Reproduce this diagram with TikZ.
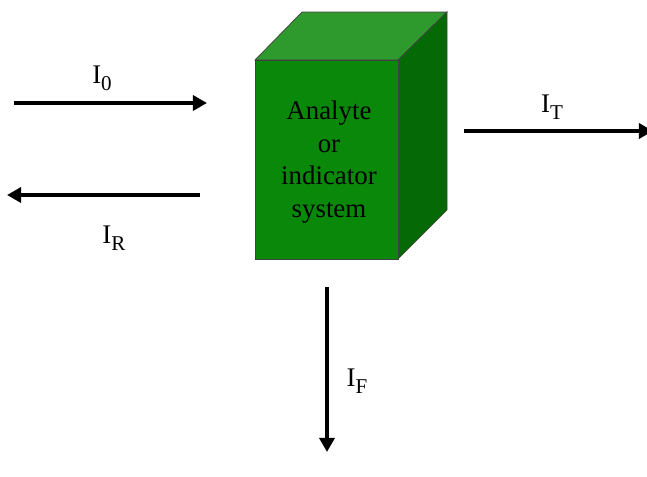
\documentclass[tikz,border=0pt]{standalone}
\usepackage{fontspec}
\setmainfont{Liberation Serif}
\usepackage{tikz}
\usetikzlibrary{arrows.meta}
\definecolor{frontgreen}{HTML}{0A880A}
\definecolor{topgreen}{HTML}{2E9A2E}
\definecolor{sidegreen}{HTML}{056A05}
\newcommand{\intsub}[1]{I\raisebox{-0.55ex}{\fontsize{12}{12}\selectfont #1}}

\begin{document}
\begin{tikzpicture}[x=0.02cm, y=-0.02cm, every node/.style={font=\fontsize{15.3}{18.5}\selectfont}, >={Triangle[length=8pt,width=8.5pt]}, beam/.style={->, line width=2.8pt}]
	\useasboundingbox (0,0) rectangle (647,477);
	% cube
	\filldraw[fill=topgreen, draw=black!75] (255,60) -- (302,12) -- (447,12) -- (398,60) -- cycle;
	\filldraw[fill=sidegreen, draw=black!75] (398,60) -- (447,12) -- (447,210) -- (398,259) -- cycle;
	\filldraw[fill=frontgreen, draw=black!75] (255,60) rectangle (398,259);
	\node[align=center] (sys) at (329,162) {Analyte\\or\\indicator\\system};
	% beams
	\coordinate (in0) at (14,103);   \coordinate (in1) at (207,103);
	\coordinate (re0) at (200,195);  \coordinate (re1) at (7,195);
	\coordinate (tr0) at (464,131);  \coordinate (tr1) at (653,131);
	\coordinate (fl0) at (327,287);  \coordinate (fl1) at (327,452);
	\draw[beam] (in0) -- (in1);
	\draw[beam] (re0) -- (re1);
	\draw[beam] (tr0) -- (tr1);
	\draw[beam] (fl0) -- (fl1);
	\node (i0) at (102,78) {\intsub{0}};
	\node (ir) at (114,238) {\intsub{R}};
	\node (it) at (552,107) {\intsub{T}};
	\node (if) at (357,381) {\intsub{F}};
\end{tikzpicture}
\end{document}
